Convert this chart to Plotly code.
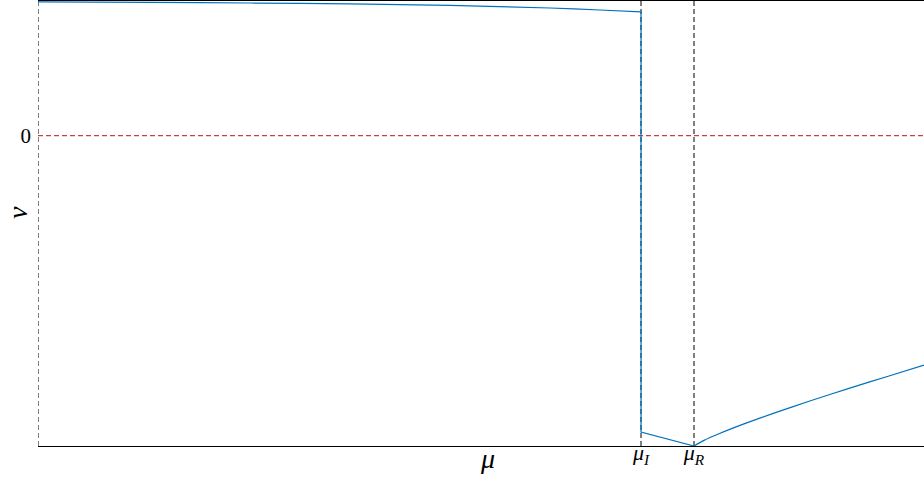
import plotly.graph_objects as go

# Data
mu_min, mu_max = 0.0, 10.0
nu_min, nu_max = -2.304, 1.0
mu_I = 6.806
mu_R = 7.404

branch1_mu = [0.0, 1.264, 2.393, 3.521, 4.650, 5.779, 6.343, 6.806]
branch1_nu = [0.993, 0.990, 0.985, 0.978, 0.967, 0.948, 0.933, 0.919]

drop_mu = [6.806, 6.806, 7.404]
drop_nu = [0.919, -2.20, -2.304]

branch2_mu = [7.404, 7.517, 7.686, 7.968, 8.307, 8.702, 9.153, 9.605, 10.0]
branch2_nu = [-2.304, -2.262, -2.213, -2.140, -2.060, -1.972, -1.876, -1.784, -1.704]

xtick_vals = [mu_I, mu_R]
xtick_text = ["<i>μ</i><sub><i>I</i></sub>", "<i>μ</i><sub><i>R</i></sub>"]
ytick_vals = [0]
ytick_text = ["0"]

FONT = "Liberation Serif"
BLUE = "#0072BD"

fig = go.Figure()

# reference dashed lines
fig.add_trace(go.Scatter(x=[mu_min, mu_max], y=[0, 0], mode="lines",
                         line=dict(color="rgb(190,20,20)", width=1, dash="5px,3px"),
                         hoverinfo="skip", showlegend=False))
for xv in [mu_min, mu_I, mu_R]:
    fig.add_trace(go.Scatter(x=[xv, xv], y=[nu_min, nu_max], mode="lines",
                             line=dict(color="black", width=1, dash="5px,3px"),
                             hoverinfo="skip", showlegend=False))

# main curve (three pieces)
fig.add_trace(go.Scatter(x=branch1_mu, y=branch1_nu, mode="lines",
                         line=dict(color=BLUE, width=1.2, shape="spline", smoothing=0.6),
                         showlegend=False))
fig.add_trace(go.Scatter(x=drop_mu, y=drop_nu, mode="lines",
                         line=dict(color=BLUE, width=1.2),
                         showlegend=False))
fig.add_trace(go.Scatter(x=branch2_mu, y=branch2_nu, mode="lines",
                         line=dict(color=BLUE, width=1.2, shape="spline", smoothing=0.6),
                         showlegend=False))

L, R, T, B = 38, 0, 1, 33
pw, ph = 924 - L - R, 479 - T - B

fig.update_layout(
    width=924, height=479,
    margin=dict(l=L, r=R, t=T, b=B, autoexpand=False),
    paper_bgcolor="white", plot_bgcolor="white",
    font=dict(family=FONT, color="black", size=21),
    xaxis=dict(range=[mu_min, mu_max], showgrid=False, zeroline=False,
               showline=True, linecolor="black", linewidth=1, mirror=True,
               tickvals=xtick_vals, ticktext=xtick_text, ticks="",
               ticklabelstandoff=-13,
               tickfont=dict(size=22, family=FONT)),
    yaxis=dict(range=[nu_min, nu_max], showgrid=False, zeroline=False,
               showline=False, tickvals=ytick_vals, ticktext=ytick_text,
               ticks="", ticklabelstandoff=6,
               tickfont=dict(size=21, family=FONT)),
    annotations=[
        dict(text="<i>μ</i>", x=(487 - L) / pw, y=(446 - 459) / ph,
             xref="paper", yref="paper", showarrow=False,
             xanchor="center", yanchor="middle",
             font=dict(size=28, family=FONT)),
        dict(text="<i>ν</i>", x=(17 - L) / pw, y=(446 - 213) / ph,
             xref="paper", yref="paper", showarrow=False, textangle=-90,
             xanchor="center", yanchor="middle",
             font=dict(size=28, family=FONT)),
    ],
)

fig.write_html("out.html", config={"displayModeBar": False},
               post_script="document.body.style.margin='0';")
